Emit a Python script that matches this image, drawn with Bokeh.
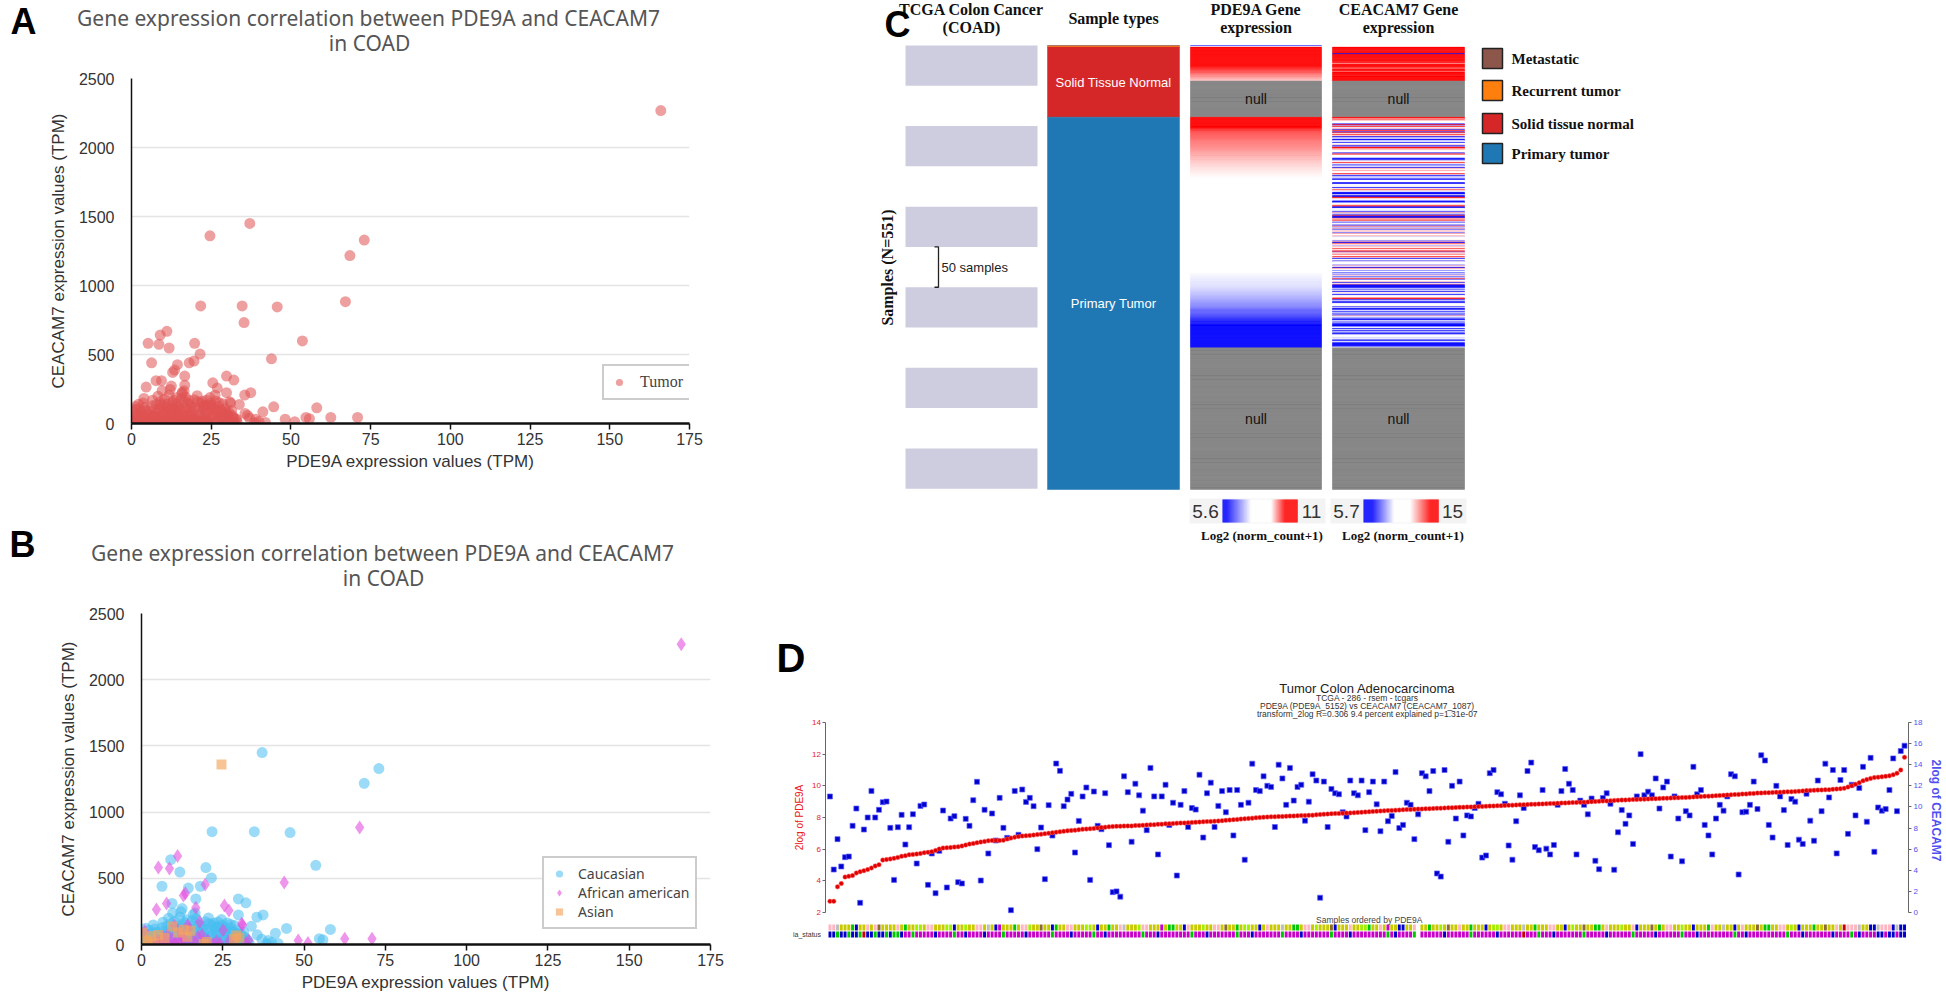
import math
import numpy as np
from bokeh.plotting import figure
from bokeh.models import (Range1d, LinearAxis, Label, Legend, LegendItem,
                          FixedTicker, ColumnDataSource, LinearColorMapper)
from bokeh.layouts import row, column
from bokeh.embed import file_html
from bokeh.resources import INLINE

# ============================ DATA ============================
# Panels A and B: PDE9A TPM (x) vs CEACAM7 TPM (y) per tumour, by race
X_TICKS = [0, 25, 50, 75, 100, 125, 150, 175]
Y_TICKS = [0, 500, 1000, 1500, 2000, 2500]

caucasian_pts = [
    (37.1, 1450), (73.0, 1329), (68.5, 1217), (21.7, 852), (34.7, 852), (45.7, 845),
    (53.6, 598), (9.0, 641), (19.8, 581), (11.8, 547), (21.5, 503), (6.3, 440),
    (18.1, 440), (14.4, 426), (16.7, 344), (29.8, 344), (32.1, 315), (9.4, 310),
    (29.8, 223), (37.4, 223), (35.5, 206), (12.5, 271), (16.5, 237), (33.8, 138),
    (44.6, 121), (58.1, 114), (41.2, 85), (35.6, 73), (37.0, 39), (54.7, 44),
    (55.8, 35), (40.0, 15), (1.3, 123), (20.7, 157), (23.5, 169), (22.8, 133),
    (24.9, 126), (31.9, 44), (39.0, 30), (42.0, 8), (38.5, 5),
    (0.4, 6), (1.1, 14), (1.7, 2), (2.6, 27), (2.8, 9), (3.4, 47), (3.9, 16), (4.3, 63),
    (4.7, 3), (5.2, 31), (5.4, 92), (6.1, 19), (6.4, 128), (6.7, 52), (7.3, 6), (7.8, 138),
    (8.2, 37), (8.4, 103), (9.1, 158), (9.2, 21), (9.8, 77), (10.3, 176), (10.7, 44),
    (11.1, 118), (11.6, 11), (11.8, 206), (12.2, 66), (12.9, 152), (13.3, 28), (13.7, 97),
    (14.1, 187), (14.3, 13), (15.0, 124), (15.2, 57), (15.9, 226), (16.2, 83), (16.6, 161),
    (17.1, 24), (17.3, 112), (17.9, 63), (18.4, 141), (18.6, 17), (19.2, 88), (19.7, 172),
    (20.1, 41), (20.3, 121), (20.9, 7), (21.4, 72), (21.8, 146), (22.3, 29), (22.6, 101),
    (23.1, 54), (23.6, 131), (23.9, 19), (24.2, 86), (24.8, 148), (25.3, 46), (25.7, 108),
    (26.1, 13), (26.7, 77), (27.2, 127), (27.6, 36), (28.1, 94), (28.4, 61), (28.9, 21),
    (29.4, 108), (30.1, 47), (30.6, 79), (31.2, 16), (31.7, 56), (32.6, 32), (33.1, 11),
    (0.9, 41), (1.6, 68), (2.3, 108), (3.1, 86), (4.1, 117), (4.9, 9), (6.0, 39), (7.1, 96),
    (8.3, 198), (9.0, 113), (10.2, 58), (10.9, 26), (12.1, 247), (13.2, 168), (13.9, 49),
    (15.1, 99), (16.3, 22), (16.9, 192), (18.1, 96), (19.0, 52), (19.9, 14), (21.1, 104),
    (22.2, 162), (23.2, 84), (24.1, 39), (25.2, 133), (26.3, 94), (27.1, 57), (28.2, 99),
    (29.1, 26), (30.2, 66), (3.6, 148), (6.6, 168), (9.6, 238), (12.6, 129), (15.6, 178),
    (18.7, 119), (21.6, 62), (24.6, 188), (27.4, 152), (7.6, 48), (10.4, 87), (13.4, 4),
    (16.4, 46), (19.4, 27), (22.7, 128), (25.4, 61), (28.6, 143), (31.4, 94), (1.9, 56),
    (4.4, 93), (8.6, 4), (11.3, 139), (14.6, 67), (17.6, 147), (20.6, 201), (23.4, 6),
    (26.4, 163), (29.6, 84), (0.2, 20), (0.7, 3), (2.0, 1), (5.7, 4), (11.9, 2), (17.7, 3),
    (21.9, 1), (27.8, 4), (32.0, 3), (13.8, 8), (19.3, 5), (24.5, 2),
]
african_american_pts = [
    (166.0, 2268), (67.1, 883), (11.1, 668), (5.2, 581), (8.6, 574), (43.9, 469),
    (19.6, 453), (12.9, 370), (13.5, 387), (25.5, 295), (7.7, 310), (4.6, 264),
    (16.7, 278), (26.9, 257), (30.8, 157), (48.2, 31), (51.2, 12), (62.5, 44),
    (70.9, 44), (17.9, 169),
    (1.0, 101), (2.5, 16), (3.5, 5), (4.5, 36), (5.6, 12), (6.5, 56), (7.4, 21), (8.5, 8),
    (9.6, 41), (10.5, 3), (11.4, 26), (12.4, 71), (13.6, 15), (14.5, 118), (15.4, 34),
    (16.6, 5), (17.4, 59), (19.0, 11), (20.4, 31), (22.1, 4), (23.1, 22), (25.1, 108),
    (26.9, 24), (29.0, 41), (31.1, 148), (32.1, 9), (10.1, 142), (12.0, 99), (14.2, 146),
    (8.1, 74), (6.1, 22), (13.1, 44), (18.6, 71), (24.1, 9), (33.0, 31), (7.0, 2),
    (9.9, 6), (11.7, 4), (5.0, 3),
]
asian_pts = [
    (24.6, 1360), (0.3, 88), (29.1, 68),
    (1.9, 21), (3.0, 62), (5.1, 71), (7.1, 49), (9.4, 136), (11.2, 91), (13.0, 111),
    (14.1, 59), (15.1, 104), (19.1, 4), (20.1, 19), (30.1, 51), (28.4, 41), (1.5, 31), (4.0, 8),
]
race_not_reported_pts = [
    (35.3, 731), (3.9, 182), (26.2, 205), (36.4, 58), (2.2, 140), (15.8, 215),
]

# Panel C: Xena heat-map columns (551 samples)
sample_type_names = ["Metastatic", "Recurrent tumor", "Solid tissue normal", "Primary tumor"]
sample_type_labels = ["", "", "Solid Tissue Normal", "Primary Tumor"]
sample_type_counts = [1, 1, 87, 462]
met_rec_pde9a = [6.2, 8.5]
met_rec_ceacam7 = [10.5, 10.3]
normal_pde9a = [11.9, 11.7, 11.6, 11.4, 11.35, 11.2, 11.15, 11.05, 10.95, 10.9,
                10.8, 10.75, 10.7, 10.62, 10.55, 10.5, 10.46, 10.4, 10.35, 10.3,
                10.26, 10.2, 10.16, 10.1, 10.05, 10.0, 9.96, 9.92, 9.87, 9.83,
                9.79, 9.74, 9.7, 9.66, 9.62, 9.58, 9.54, 9.5, 9.46, 9.42, 9.38, 9.33]
normal_ceacam7 = [14.6, 15.2, 14.1, 14.9, 13.8, 15.0, 14.4, 14.7, 6.2, 14.3,
                  15.1, 14.0, 14.8, 14.5, 13.9, 15.3, 14.2, 14.6, 13.7, 14.9,
                  12.4, 14.4, 15.0, 14.1, 14.7, 13.6, 12.6, 14.8, 14.3, 13.9,
                  12.9, 14.5, 15.1, 14.2, 14.6, 13.8, 14.9, 14.0, 14.4, 15.2, 14.7, 14.3]
normal_null_count = 45
tumor_null_count = 176
pde9a_scale = (5.6, 11.0)
ceacam7_scale = (5.7, 15.0)

# Panel D: 286 tumours ordered by PDE9A (2log values)
d_pde9a_2log = [
    2.71, 2.71, 3.62, 3.83, 4.24, 4.29, 4.33, 4.50, 4.58, 4.64,
    4.71, 4.81, 4.94, 5.02, 5.31, 5.34, 5.38, 5.42, 5.48, 5.55,
    5.59, 5.65, 5.67, 5.69, 5.73, 5.78, 5.80, 5.84, 5.92, 6.01,
    6.07, 6.09, 6.11, 6.13, 6.15, 6.20, 6.26, 6.32, 6.36, 6.41,
    6.45, 6.49, 6.53, 6.55, 6.55, 6.55, 6.57, 6.64, 6.70, 6.76,
    6.80, 6.83, 6.85, 6.87, 6.89, 6.92, 6.95, 6.98, 7.01, 7.04,
    7.07, 7.10, 7.13, 7.16, 7.18, 7.20, 7.23, 7.26, 7.27, 7.29,
    7.31, 7.34, 7.37, 7.39, 7.41, 7.43, 7.44, 7.45, 7.46, 7.47,
    7.47, 7.49, 7.50, 7.51, 7.53, 7.54, 7.55, 7.57, 7.58, 7.60,
    7.61, 7.62, 7.64, 7.65, 7.66, 7.67, 7.69, 7.70, 7.71, 7.73,
    7.74, 7.75, 7.77, 7.78, 7.80, 7.82, 7.84, 7.86, 7.88, 7.90,
    7.92, 7.94, 7.96, 7.98, 8.00, 8.02, 8.03, 8.04, 8.05, 8.06,
    8.07, 8.08, 8.09, 8.10, 8.11, 8.12, 8.13, 8.14, 8.15, 8.17,
    8.19, 8.21, 8.22, 8.24, 8.25, 8.26, 8.27, 8.28, 8.29, 8.30,
    8.32, 8.33, 8.35, 8.36, 8.38, 8.39, 8.41, 8.42, 8.44, 8.45,
    8.46, 8.47, 8.49, 8.50, 8.51, 8.52, 8.53, 8.54, 8.55, 8.56,
    8.57, 8.58, 8.59, 8.60, 8.61, 8.62, 8.63, 8.64, 8.65, 8.66,
    8.67, 8.68, 8.69, 8.70, 8.71, 8.72, 8.73, 8.74, 8.75, 8.76,
    8.77, 8.78, 8.79, 8.80, 8.81, 8.82, 8.83, 8.84, 8.85, 8.86,
    8.87, 8.88, 8.89, 8.90, 8.91, 8.92, 8.93, 8.94, 8.95, 8.96,
    8.97, 8.98, 9.00, 9.01, 9.02, 9.04, 9.05, 9.06, 9.08, 9.09,
    9.10, 9.11, 9.12, 9.13, 9.14, 9.15, 9.16, 9.17, 9.18, 9.19,
    9.20, 9.21, 9.22, 9.23, 9.24, 9.25, 9.26, 9.27, 9.28, 9.30,
    9.31, 9.32, 9.34, 9.35, 9.36, 9.38, 9.39, 9.40, 9.42, 9.43,
    9.45, 9.46, 9.48, 9.49, 9.51, 9.52, 9.54, 9.55, 9.56, 9.57,
    9.58, 9.59, 9.60, 9.61, 9.62, 9.63, 9.64, 9.66, 9.68, 9.70,
    9.71, 9.72, 9.73, 9.74, 9.75, 9.76, 9.78, 9.80, 9.82, 9.85,
    9.92, 10.00, 10.10, 10.20, 10.32, 10.40, 10.47, 10.52, 10.55, 10.57,
    10.60, 10.63, 10.70, 10.80, 11.00, 11.80,
]
d_ceacam7_2log = [
    10.99, 4.07, 6.95, 4.36, 5.24, 5.30, 8.21, 9.85, 0.92, 7.86,
    9.0, 11.52, 9.0, 9.73, 10.45, 10.51, 8.02, 3.09, 8.08, 9.25,
    6.44, 8.08, 9.31, 4.64, 10.1, 10.23, 2.62, 5.59, 1.83, 5.84,
    9.66, 2.37, 8.9, 9.13, 2.87, 2.75, 8.87, 8.21, 10.64, 12.38,
    3.03, 9.73, 5.59, 9.38, 6.82, 10.86, 8.02, 7.07, 0.22, 11.52,
    7.36, 11.65, 10.48, 10.86, 10.07, 6.0, 8.05, 3.16, 10.17, 7.29,
    14.11, 13.42, 10.07, 10.7, 11.24, 5.68, 8.68, 10.99, 11.84, 3.09,
    11.46, 8.21, 7.89, 11.3, 6.38, 1.93,
    2.0, 1.5, 12.9, 11.4,
    6.7, 12.2, 11.1, 9.65, 7.8, 13.7, 11.0, 5.5, 11.0, 12.1,
    8.3, 10.4, 3.5, 10.2, 11.5, 8.1, 9.9, 9.75, 13.05, 7.1,
    11.3, 12.3, 8.1, 10.1, 11.5, 9.5, 11.6, 7.3, 11.6, 10.2,
    5.0, 10.4, 14.1, 11.6, 11.5, 12.9, 12.0, 11.9, 8.1, 14.0,
    12.7, 10.2, 13.7, 10.6, 11.9, 12.1, 8.7, 10.5, 13.1, 12.5,
    1.4, 12.4, 8.1, 11.7, 11.3, 11.2, 9.5, 9.1, 12.5, 11.3,
    11.1, 12.5, 7.8, 11.4, 12.4, 10.25, 7.7, 12.4, 8.65, 9.15,
    13.3, 8.0, 8.3, 10.4, 10.2, 6.95, 9.3, 13.2, 12.9, 11.5,
    13.4, 3.7, 3.4, 13.5, 6.7, 12.0, 8.9, 12.4, 7.3, 9.2,
    9.1, 9.9, 10.3, 5.2, 5.4, 13.2, 13.5, 11.4, 11.2, 10.3,
    6.35, 5.0, 8.65, 11.1, 9.9, 13.4, 14.2, 6.2, 5.9, 11.6,
    6.05, 5.5, 6.4, 10.2, 11.5, 13.6, 12.2, 11.6, 5.5, 10.6,
    10.2, 9.3, 10.8, 4.9, 4.1, 10.85, 11.3, 10.3, 4.05, 7.6,
    9.7, 8.4, 9.2, 6.5, 11.0, 15.0, 11.1, 11.45, 11.1, 12.7,
    9.85, 11.85, 12.4, 5.3, 11.0, 8.9, 4.85, 9.6, 9.2, 13.8,
    11.2, 11.6, 8.3, 7.3, 5.5, 8.9, 10.2, 9.65, 11.0, 13.1,
    12.9, 3.6, 9.5, 9.55, 10.2, 12.4, 9.8, 14.9, 14.4, 8.3,
    7.1, 12.0, 11.0, 9.7, 6.4, 10.75, 10.5, 6.9, 6.5, 11.25,
    8.7, 6.8, 12.5, 9.6, 14.1, 10.9, 13.5, 5.6, 12.55, 13.5,
    7.45, 12.1, 9.2, 11.8, 13.8, 8.6, 14.65, 5.75, 9.95, 9.65,
    9.8, 11.6, 14.6, 9.6, 15.3, 15.8,
]
d_status_1 = "".join([
    "PPRYYYGBYY", "PYPNYYYYPY", "GYYLLYPPYY", "YLLBYYLYYP", "PYRYBMYYYG",
    "YPPLYYNYYB", "GYYPPYYYLL", "YBYYGYYPRY", "YYLPPYYYMY", "GGYYBPYYYL",
    "YYPPYNYYGY", "LLYYBYPYYY", "RYYGGYPPYL", "YYYNBYYYPY", "YLLGYYPYMY",
    "YBBYYPWYYG", "YYLYNYYPYY", "GYYYBYLLYP", "PYYYRYYGYY", "YPPYYBYLYY",
    "NYYGGYPYYY", "LYYPBYYYNY", "GYPPYYLYYB", "YYYGPYYRYY", "BYPYYYNYGG",
    "YYPPYLYBYY", "YGYYNYYPYD", "PPPRYYBBRP", "PPBRBB"])
d_status_2 = "".join([
    "BBGBBGBBGD", "BBGBBGBGGB", "MMGMMMMMBM", "MMMGMMBMMM", "MBMMMMGMMM",
    "MMBMMMMMMG", "MMMMBMMMMM", "GMMBMMMMMM", "MMMGMMMBMM", "MMMMMMGMMM",
    "BMMMMMMMGM", "MMBMMMMMMM", "GMMMMBMMMM", "MMMGMMMMBM", "MMMMMMMMGM",
    "BMMMMGWMMM", "MMMBMMMMMM", "GMMMMMMBMM", "MMMMDMMMGM", "MMBMMMMMMM",
    "GMMMMMBMMM", "MMMGMMMMMB", "MMMMMMGMMM", "BMMMMMMMMM", "GMMBMMMMMM",
    "MMMMGMMMBM", "MMMMMMBMMM", "MGMBMMMMBB", "MBBMBB"])
D_LEFT_TICKS = [2, 4, 6, 8, 10, 12, 14]
D_RIGHT_TICKS = [0, 2, 4, 6, 8, 10, 12, 14, 16, 18]

# ============================ STYLE ============================
FONT_NARROW = "Liberation Sans Narrow, Liberation Sans, sans-serif"
FONT_SANS = "Liberation Sans, DejaVu Sans, sans-serif"
FONT_SERIF = "Liberation Serif, DejaVu Serif, serif"
FONT_TITLE = "Noto Sans, DejaVu Sans, sans-serif"

STATUS_COLORS = {"P": "#FFB6C1", "Y": "#C9C900", "L": "#A2F000", "G": "#00C800",
                 "B": "#0000C8", "R": "#BEBEBE", "M": "#C800C8", "N": "#8B6B2E",
                 "W": "#FFFFFF", "D": "#C80000", "O": "#FF9900"}
TYPE_COLORS = ["#8C564B", "#FF7F0E", "#D62728", "#1F77B4"]

W_TOTAL, H_TOTAL = 1946, 995
W_L = 724
W_R = W_TOTAL - W_L


def lin(p0, p1, d0, d1):
    k = (d1 - d0) / (p1 - p0)
    return lambda p: d0 + (p - p0) * k


def no_align(p):
    if "frame_align" in p.properties():
        p.frame_align = False


def label(p, x, y, text, size, color="#333333", font=FONT_SANS, align="center",
          baseline="middle", style="normal", angle=0.0):
    p.add_layout(Label(x=x, y=y, text=text, text_font=font, text_font_size=f"{size}px",
                       text_color=color, text_align=align, text_baseline=baseline,
                       text_font_style=style, angle=angle))


def text_fig(px0, py0, w, h):
    """Blank canvas whose data units are page pixels (titles / panel letters)."""
    p = figure(width=w, height=h, x_range=Range1d(px0, px0 + w), y_range=Range1d(py0 + h, py0),
               output_backend="svg", toolbar_location=None, title=None,
               x_axis_location=None, y_axis_location=None,
               min_border_left=0, min_border_right=0, min_border_top=0, min_border_bottom=0)
    p.outline_line_color = None
    p.grid.visible = False
    no_align(p)
    return p


def scatter_fig(px0, py0, w, h, frame):
    fl, ft, fr, fb = frame
    p = figure(width=w, height=h, x_range=Range1d(0, 175), y_range=Range1d(0, 2500),
               output_backend="svg", toolbar_location=None, title=None,
               min_border_left=fl - px0, min_border_right=px0 + w - fr,
               min_border_top=ft - py0, min_border_bottom=py0 + h - fb)
    no_align(p)
    p.outline_line_color = None
    p.background_fill_color = "white"
    p.border_fill_color = "white"
    p.xgrid.visible = False
    p.ygrid.grid_line_color = "#E4E4E4"
    p.ygrid.grid_line_width = 1.5
    p.xaxis.ticker = FixedTicker(ticks=X_TICKS)
    p.yaxis.ticker = FixedTicker(ticks=Y_TICKS)
    for ax in (p.xaxis, p.yaxis):
        ax.axis_line_color = "#111111"
        ax.minor_tick_out = 0
        ax.minor_tick_in = 0
        ax.major_tick_in = 0
        ax.major_label_text_font = FONT_NARROW
        ax.major_label_text_font_size = "16px"
        ax.major_label_text_color = "#333333"
        ax.axis_label_text_font = FONT_NARROW
        ax.axis_label_text_font_size = "17px"
        ax.axis_label_text_font_style = "normal"
        ax.axis_label_text_color = "#333333"
    p.xaxis.axis_line_width = 2.5
    p.xaxis.major_tick_out = 6
    p.xaxis.major_tick_line_color = "#111111"
    p.xaxis.major_tick_line_width = 1.5
    p.xaxis.major_label_standoff = 3
    p.xaxis.axis_label = "PDE9A expression values (TPM)"
    p.xaxis.axis_label_standoff = 4
    p.yaxis.axis_line_width = 1.5
    p.yaxis.major_tick_out = 0
    p.yaxis.major_label_standoff = 17
    p.yaxis.axis_label = "CEACAM7 expression values (TPM)"
    p.yaxis.axis_label_standoff = 8
    return p


def legend_style(leg, font, size):
    leg.border_line_color = "#9A9A9A"
    leg.border_line_width = 2
    leg.background_fill_color = "white"
    leg.background_fill_alpha = 1.0
    leg.label_text_font = font
    leg.label_text_font_size = f"{size}px"
    leg.label_text_color = "#444444"
    leg.glyph_width = 18
    leg.spacing = 0


def xs(pts):
    return [a for a, b in pts]


def ys(pts):
    return [b for a, b in pts]


TITLE_1 = "Gene expression correlation between PDE9A and CEACAM7"
TITLE_2 = "in COAD"

# ============================ PANEL A ============================
hA = text_fig(0, 0, W_L, 66)
label(hA, 10, 0, "A", 36, "#000000", FONT_SANS, "left", "top", "bold")
label(hA, 368, 17, TITLE_1, 21, "#555555", FONT_TITLE)
label(hA, 369, 42, TITLE_2, 21, "#555555", FONT_TITLE)

A_FRAME = (131, 78, 689, 423)
pA = scatter_fig(0, 66, W_L, 429, A_FRAME)
all_pts = caucasian_pts + african_american_pts + asian_pts + race_not_reported_pts
rA = pA.scatter(xs(all_pts), ys(all_pts), marker="circle", size=11,
                fill_color="#E05252", fill_alpha=0.55, line_color=None)
legA = Legend(items=[LegendItem(label="Tumor", renderers=[rA])], location=(471, 23))
legend_style(legA, FONT_SERIF, 16)
legA.padding = 6
legA.label_standoff = 12
legA.label_height = 20
legA.glyph_height = 20
pA.add_layout(legA)

# ============================ PANEL B ============================
hB = text_fig(0, 495, W_L, 106)
label(hB, 9, 523, "B", 36, "#000000", FONT_SANS, "left", "top", "bold")
label(hB, 382, 552, TITLE_1, 21, "#555555", FONT_TITLE)
label(hB, 383, 577, TITLE_2, 21, "#555555", FONT_TITLE)

B_FRAME = (141, 613, 710, 944)
pB = scatter_fig(0, 601, W_L, 394, B_FRAME)
rC = pB.scatter(xs(caucasian_pts), ys(caucasian_pts), marker="circle", size=11,
                fill_color="#48BDF0", fill_alpha=0.55, line_color=None)
rAA = pB.scatter(xs(african_american_pts), ys(african_american_pts), marker="diamond", size=14,
                 fill_color="#E24FDF", fill_alpha=0.6, line_color=None)
rAS = pB.scatter(xs(asian_pts), ys(asian_pts), marker="square", size=10,
                 fill_color="#F3A65C", fill_alpha=0.65, line_color=None)
legB = Legend(items=[LegendItem(label="Caucasian", renderers=[rC]),
                     LegendItem(label="African american", renderers=[rAA]),
                     LegendItem(label="Asian", renderers=[rAS])], location=(401, 15))
legend_style(legB, FONT_TITLE, 14)
legB.padding = 6
legB.label_standoff = 10
legB.label_height = 19
legB.glyph_height = 19
pB.add_layout(legB)


# ============================ PANEL C ============================
def ramp(anchors, lo, hi, n=256):
    pal = []
    for k in range(n):
        v = lo + (hi - lo) * k / (n - 1)
        rgb = anchors[-1][1]
        for (v0, c0), (v1, c1) in zip(anchors[:-1], anchors[1:]):
            if v <= v1:
                t = 0.0 if v1 == v0 else min(max((v - v0) / (v1 - v0), 0.0), 1.0)
                rgb = [round(a + (b - a) * t) for a, b in zip(c0, c1)]
                break
        pal.append("#%02x%02x%02x" % tuple(rgb))
    return pal


BLUE, WHITE, RED = (0, 0, 255), (255, 255, 255), (255, 0, 0)
pde_pal = ramp([(5.6, BLUE), (5.9, BLUE), (7.65, WHITE), (9.1, WHITE), (10.1, RED), (11.0, RED)],
               *pde9a_scale)
cea_pal = ramp([(5.7, BLUE), (6.8, BLUE), (9.5, WHITE), (11.5, WHITE), (14.0, RED), (15.0, RED)],
               *ceacam7_scale)
pde_map = LinearColorMapper(palette=pde_pal, low=pde9a_scale[0], high=pde9a_scale[1],
                            nan_color="#808080", low_color="#0000ff", high_color="#ff0000")
cea_map = LinearColorMapper(palette=cea_pal, low=ceacam7_scale[0], high=ceacam7_scale[1],
                            nan_color="#808080", low_color="#0000ff", high_color="#ff0000")

CX0, CY0, H_C = W_L, 0, 556
cy = lin(45, 489, 0, 551)          # page y -> sample index
pC = figure(width=W_R, height=H_C, x_range=Range1d(CX0, CX0 + W_R),
            y_range=Range1d(cy(CY0 + H_C), cy(CY0)), output_backend="svg",
            toolbar_location=None, title=None, x_axis_location=None, y_axis_location=None,
            min_border_left=0, min_border_right=0, min_border_top=0, min_border_bottom=0)
pC.outline_line_color = None
pC.grid.visible = False
no_align(pC)

COL1, COL2, COL3, COL4 = (905, 1037), (1047, 1179), (1190, 1321), (1332, 1464)
n_samples = sum(sample_type_counts)
STEP = 50
blk_top = list(range(0, n_samples, 2 * STEP))
blk_bot = [min(t + STEP, n_samples) for t in blk_top]
pC.quad(left=COL1[0], right=COL1[1], top=blk_top, bottom=blk_bot,
        fill_color="#CECDDF", line_color=None)

cum = np.cumsum([0] + sample_type_counts)
pC.quad(left=COL2[0], right=COL2[1], top=cum[:-1], bottom=cum[1:],
        fill_color=TYPE_COLORS, line_color=TYPE_COLORS, line_width=0.5)

nan = float("nan")
col_pde = np.array(met_rec_pde9a + normal_pde9a + [nan] * normal_null_count
                   + d_pde9a_2log[::-1] + [nan] * tumor_null_count, dtype=float)
col_cea = np.array(met_rec_ceacam7 + normal_ceacam7 + [nan] * normal_null_count
                   + d_ceacam7_2log[::-1] + [nan] * tumor_null_count, dtype=float)
rows = np.arange(n_samples)
srcC = ColumnDataSource(dict(top=rows, bottom=rows + 1, pde=col_pde, cea=col_cea))
pC.quad(left=COL3[0], right=COL3[1], top="top", bottom="bottom", source=srcC,
        fill_color={"field": "pde", "transform": pde_map},
        line_color={"field": "pde", "transform": pde_map}, line_width=0.4)
pC.quad(left=COL4[0], right=COL4[1], top="top", bottom="bottom", source=srcC,
        fill_color={"field": "cea", "transform": cea_map},
        line_color={"field": "cea", "transform": cea_map}, line_width=0.4)

HF = 16
for cx_, lines in [((COL1[0] + COL1[1]) / 2, ["TCGA Colon Cancer", "(COAD)"]),
                   ((COL3[0] + COL3[1]) / 2, ["PDE9A Gene", "expression"]),
                   ((COL4[0] + COL4[1]) / 2, ["CEACAM7 Gene", "expression"])]:
    label(pC, cx_, cy(9), lines[0], HF, "#111111", FONT_SERIF, style="bold")
    label(pC, cx_, cy(27), lines[1], HF, "#111111", FONT_SERIF, style="bold")
label(pC, (COL2[0] + COL2[1]) / 2, cy(18), "Sample types", HF, "#111111", FONT_SERIF, style="bold")
label(pC, 884, cy(3), "C", 36, "#000000", FONT_SANS, "left", "top", "bold")
label(pC, 887, cy(267), "Samples (N=551)", HF, "#111111", FONT_SERIF, style="bold",
      angle=math.pi / 2)
pC.line(x=[934, 938, 938, 934], y=[250, 250, 300, 300], line_color="#222222", line_width=1.3)
label(pC, 941, 275, "50 samples", 13, "#222222", FONT_NARROW, "left")
for k, txt in enumerate(sample_type_labels):
    if txt:
        label(pC, (COL2[0] + COL2[1]) / 2, (cum[k] + cum[k + 1]) / 2, txt, 13, "#FFFFFF", FONT_NARROW)
null_a = len(met_rec_pde9a) + len(normal_pde9a)
null_b = n_samples - tumor_null_count
for cx_ in ((COL3[0] + COL3[1]) / 2, (COL4[0] + COL4[1]) / 2):
    label(pC, cx_, null_a + normal_null_count / 2, "null", 14, "#111111", FONT_NARROW)
    label(pC, cx_, null_b + tumor_null_count / 2, "null", 14, "#111111", FONT_NARROW)
LEG_Y = [58, 90, 123, 153]
pC.rect(x=[1492] * 4, y=[cy(v) for v in LEG_Y], width=20, height=cy(65) - cy(45),
        fill_color=TYPE_COLORS, line_color="#222222", line_width=1.5)
for name, yy in zip(sample_type_names, LEG_Y):
    label(pC, 1511, cy(yy), name, 15, "#111111", FONT_SERIF, "left", style="bold")
for (x0, x1), (lo, hi), mapper, tl, th in [((1222, 1297), pde9a_scale, pde_map, "5.6", "11"),
                                          ((1363, 1438), ceacam7_scale, cea_map, "5.7", "15")]:
    pC.quad(left=x0 - 33, right=x1 + 28, top=cy(498), bottom=cy(523),
            fill_color="#F3F3F3", line_color=None)
    npx = x1 - x0
    grad = ColumnDataSource(dict(
        left=[x0 + k for k in range(npx)],
        right=[x0 + k + 1.2 for k in range(npx)],
        v=[lo + (hi - lo) * (k + 0.5) / npx for k in range(npx)]))
    pC.quad(left="left", right="right", top=cy(499), bottom=cy(522), source=grad,
            fill_color={"field": "v", "transform": mapper}, line_color=None)
    label(pC, x0 - 17, cy(511), tl, 19, "#333333", FONT_SANS)
    label(pC, x1 + 14, cy(511), th, 19, "#333333", FONT_SANS)
    label(pC, (x0 + x1) / 2 + 2, cy(535), "Log2 (norm_count+1)", 13, "#111111", FONT_SERIF,
          style="bold")

# ============================ PANEL D ============================
D_TOP = 680
hD = text_fig(W_L, 556, W_R, D_TOP - 556)
label(hD, 776, 635, "D", 40, "#000000", FONT_SANS, "left", "top", "bold")

FR, FB = 1914, 940
AX_L = 826
DCX = (AX_L + FR) / 2
DX0, DY0, H_D = W_L, D_TOP, H_TOTAL - D_TOP
n_d = len(d_pde9a_2log)
dx = lin(830, FR - 4, 0, n_d - 1)
dR = lin(912, 722, 0, 18)
dL = lin(912, 722, 2, 14)
pD = figure(width=W_R, height=H_D, x_range=Range1d(dx(DX0), dx(FR)),
            y_range=Range1d(dR(FB), dR(D_TOP)), output_backend="svg", toolbar_location=None,
            title=None, x_axis_location=None, y_axis_location=None,
            min_border_left=0, min_border_right=DX0 + W_R - FR,
            min_border_top=0, min_border_bottom=DY0 + H_D - FB)
pD.outline_line_color = None
pD.grid.visible = False
no_align(pD)
pD.extra_y_ranges = {"pde9a": Range1d(dL(FB), dL(D_TOP))}

axL = LinearAxis(y_range_name="pde9a", ticker=FixedTicker(ticks=D_LEFT_TICKS), bounds=(2, 14),
                 axis_label="2log of PDE9A", fixed_location=dx(AX_L))
axR = LinearAxis(ticker=FixedTicker(ticks=D_RIGHT_TICKS), bounds=(0, 18),
                 axis_label="2log of CEACAM7")
for ax, col in ((axL, "#E82020"), (axR, "#5050F0")):
    ax.axis_line_color = "#666666"
    ax.major_tick_line_color = "#666666"
    ax.major_tick_out = 3
    ax.major_tick_in = 0
    ax.minor_tick_out = 0
    ax.minor_tick_in = 0
    ax.major_label_text_font = FONT_SANS
    ax.major_label_text_font_size = "8px"
    ax.major_label_text_color = col
    ax.major_label_standoff = 2
    ax.axis_label_text_font = FONT_SANS
    ax.axis_label_text_font_style = "normal"
    ax.axis_label_text_color = col
    ax.axis_label_standoff = 4
axL.axis_label_text_font_size = "10px"
axR.axis_label_text_font_size = "12px"
axR.axis_label_text_font_style = "bold"
pD.add_layout(axL, "left")
pD.add_layout(axR, "right")

idx = np.arange(n_d)
srcD = ColumnDataSource(dict(i=idx, pde=d_pde9a_2log, cea=d_ceacam7_2log,
                             s1=[STATUS_COLORS[c] for c in d_status_1],
                             s2=[STATUS_COLORS[c] for c in d_status_2]))
pD.scatter("i", "cea", source=srcD, marker="square", size=5, fill_color="#0000CD",
           line_color="#6060FF", line_width=0.7)
pD.scatter("i", "pde", source=srcD, y_range_name="pde9a", marker="circle", size=4.5,
           fill_color="#E00000", line_color="#FF6A6A", line_width=0.5)
pD.rect(x="i", y=dR(927), width=0.78, height=dR(912) - dR(918), source=srcD,
        fill_color="s1", line_color=None)
pD.rect(x="i", y=dR(934), width=0.78, height=dR(912) - dR(918), source=srcD,
        fill_color="s2", line_color=None)
label(pD, dx(DCX), dR(688), "Tumor Colon Adenocarcinoma", 13, "#222222", FONT_NARROW)
label(pD, dx(DCX), dR(697), "TCGA - 286 - rsem - tcgars", 8.5, "#333333", FONT_NARROW)
label(pD, dx(DCX), dR(705), "PDE9A (PDE9A_5152) vs CEACAM7 (CEACAM7_1087)", 8.5, "#333333",
      FONT_NARROW)
label(pD, dx(DCX), dR(713), "transform_2log R=0.306 9.4 percent explained p=1.31e-07", 8.5,
      "#333333", FONT_NARROW)
label(pD, dx((830 + FR) / 2), dR(919), "Samples ordered by PDE9A", 8.5, "#444444", FONT_NARROW)
label(pD, dx(821), dR(934), "ia_status", 7, "#333333", FONT_NARROW, "right")

layout = row(column(hA, pA, hB, pB), column(pC, hD, pD))
open("out.html", "w").write(file_html(layout, INLINE))
